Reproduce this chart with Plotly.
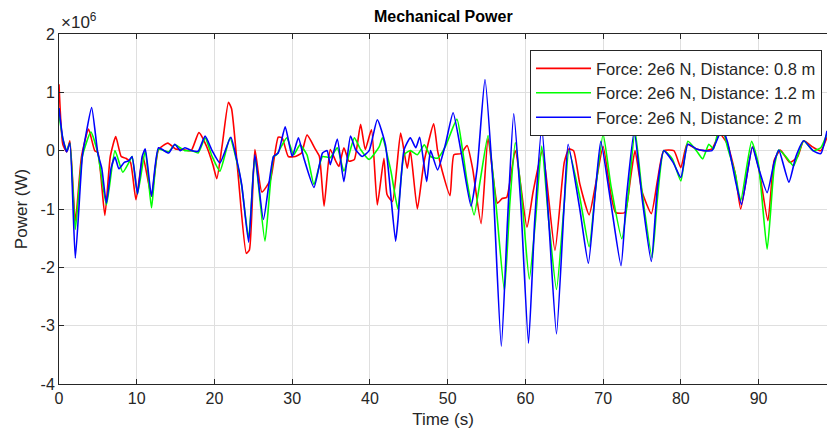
import plotly.graph_objects as go

# Mechanical power traces (values in units of 1e6 W), one time base per run
t_red = [0, 0.5, 1.0, 1.4, 2.1, 2.9, 3.8, 4.6, 5.0, 5.9, 6.6, 7.3, 8.0, 8.6, 9.2, 9.9, 10.8, 11.9,
         12.8, 14.0, 15.0, 16.0, 17.0, 18.0, 19.0, 19.8, 20.3, 21.0, 21.8, 22.2, 23.0, 24.1, 24.5,
         25.2, 26.1, 27.2, 28.2, 28.7, 29.5, 30.4, 31.2, 31.9, 33.0, 33.5, 34.1, 34.9, 35.6, 36.0,
         36.65, 37.3, 38.0, 38.8, 39.4, 40.2, 40.95, 41.8, 42.2, 42.9, 43.95, 44.8, 45.2, 46.1,
         46.95, 48.2, 48.7, 49.3, 50.3, 50.8, 51.7, 52.5, 53.2, 54.3, 55.2, 56.4, 57.0, 57.6, 58.7,
         60.2, 61.0, 62.2, 63.8, 65.0, 65.6, 66.2, 67.0, 68.2, 69.0, 70.0, 71.0, 71.6, 72.8, 73.5,
         74.1, 75.0, 76.2, 77.0, 77.8, 79.1, 80.0, 80.8, 82.0, 83.0, 84.0, 85.0, 86.0, 87.0, 87.7,
         89.2, 90.0, 91.2, 92.0, 92.8, 94.0, 95.0, 95.8, 97.0, 98.0, 98.8]
p_red = [1.14, 0.1, -0.02, 0.17, -1.21, -0.1, 0.37, 0.0, -0.03, -1.11, -0.1, 0.24, -0.1, -0.13, -0.2,
         -0.84, -0.1, -0.78, 0.02, 0.13, 0.03, 0.02, 0.0, 0.31, 0.07, -0.24, -0.48, 0.1, 0.83, 0.72,
         -0.35, -1.76, -1.7, 0.02, -0.71, -0.5, 0.23, 0.22, -0.1, -0.1, -0.04, 0.27, 0.02, -0.1,
         -0.95, 0.02, -0.18, -0.27, 0.05, -0.18, -0.15, 0.45, 0.02, 0.36, -0.93, -0.13, -0.75, -0.87,
         0.3, -0.3, 0.0, -1.0, -0.2, 0.46, 0.0, -0.35, -0.77, -0.07, -0.05, 0.09, -0.3, -1.25, 0.21,
         -0.9, -0.82, -0.8, 0.0, -1.31, -0.7, 0.0, -1.71, -0.2, 0.03, 0.0, -0.57, -1.1, -0.6, 0.07,
         -0.75, -1.06, -1.06, -0.5, 0.0, -0.7, -1.08, -0.5, 0.0, 0.0, -0.29, 0.11, 0.03, 0.0, 0.03,
         0.29, 0.11, -0.4, -1.0, 0.06, -0.29, -1.2, -0.17, 0.01, -0.2, -0.11, 0.17, 0.06, 0.0, 0.23]

t_green = [0, 0.5, 1.0, 1.4, 2.1, 3.0, 4.1, 5.0, 6.1, 7.2, 8.2, 9.0, 9.4, 10.1, 11.1, 11.9, 12.8,
           14.1, 14.9, 16.2, 17.1, 17.9, 18.8, 19.7, 20.7, 22.0, 22.9, 23.5, 24.4, 25.2, 26.5,
           27.6, 28.0, 29.3, 30.2, 31.0, 31.9, 32.8, 33.9, 34.9, 35.8, 36.65, 38.0, 38.8, 39.9,
           41.2, 41.6, 42.7, 43.6, 44.4, 45.2, 46.1, 47.0, 47.8, 48.7, 49.7, 51.2, 51.9, 52.5,
           53.4, 54.2, 55.2, 56.2, 57.3, 58.0, 58.7, 59.6, 60.5, 61.3, 62.1, 63.0, 64.0, 65.0,
           65.6, 67.0, 68.2, 69.0, 70.0, 71.0, 72.4, 73.2, 74.1, 75.0, 76.3, 77.0, 77.8, 78.9,
           80.0, 80.9, 82.0, 82.8, 83.6, 84.2, 85.1, 86.0, 87.0, 87.7, 89.1, 90.0, 91.1, 92.0,
           92.6, 93.5, 94.5, 95.8, 97.0, 98.0, 98.8]
p_green = [0.62, 0.2, 0.0, 0.13, -1.35, -0.1, 0.32, -0.05, -0.93, 0.0, -0.37, -0.2, -0.1, -0.74,
           0.0, -0.98, 0.02, -0.02, 0.1, 0.0, 0.0, -0.04, 0.22, -0.1, -0.35, 0.22, -0.2, -0.6,
           -1.5, -0.1, -1.55, -0.1, -0.07, 0.22, -0.07, 0.1, -0.07, -0.58, -0.1, -0.12, 0.05,
           -0.35, 0.22, 0.02, -0.15, 0.07, 0.22, -0.35, -1.0, -0.07, 0.0, -0.07, 0.1, -0.1, -0.13,
           0.07, 0.54, 0.02, -0.53, -1.1, -0.5, 0.26, -0.9, -2.4, -0.9, 0.14, -0.9, -2.2, -1.2,
           0.08, -1.2, -2.38, -0.9, 0.0, -0.8, -1.65, -0.7, 0.28, -0.6, -1.51, -0.8, 0.34, -0.7,
           -1.83, -0.8, 0.0, -0.14, -0.52, 0.16, 0.0, -0.14, 0.11, 0.03, 0.5, 0.06, -0.4, -0.86,
           0.16, -0.25, -1.69, -0.3, 0.01, -0.1, -0.26, 0.17, 0.0, 0.05, 0.29]

t_blue = [0, 0.5, 1.0, 1.4, 2.1, 3.0, 3.5, 4.2, 5.0, 5.5, 6.1, 6.7, 7.2, 7.7, 8.4, 9.0, 9.4, 10.1,
          10.7, 11.1, 11.9, 12.8, 14.1, 14.9, 15.6, 16.2, 17.1, 17.9, 18.8, 19.7, 20.7, 22.1, 22.9,
          23.5, 24.4, 25.2, 26.3, 27.6, 28.2, 29.1, 30.0, 30.8, 31.5, 32.8, 33.9, 34.5, 34.9, 35.8,
          36.65, 37.5, 38.15, 39.0, 39.9, 40.95, 42.0, 43.3, 43.6, 44.4, 45.2, 45.9, 46.4, 47.3,
          47.8, 48.7, 49.7, 50.7, 51.7, 53.0, 53.8, 54.8, 55.8, 56.9, 57.7, 58.5, 59.4, 60.4, 61.2,
          62.1, 63.0, 64.0, 65.0, 65.5, 67.0, 68.1, 69.0, 69.7, 71.0, 72.3, 73.0, 74.0, 75.0, 76.2,
          77.0, 77.8, 79.0, 80.0, 80.9, 82.0, 83.0, 84.0, 85.3, 86.0, 87.0, 87.8, 89.2, 90.0, 91.1,
          92.0, 92.6, 93.9, 94.8, 95.8, 97.0, 98.0, 98.8]
p_blue = [0.73, 0.2, -0.02, 0.13, -1.84, -0.1, 0.3, 0.74, -0.05, -0.3, -0.9, -0.3, -0.11, -0.31,
          -0.2, -0.17, -0.1, -0.74, -0.1, 0.03, -0.78, 0.05, -0.04, 0.11, 0.0, 0.05, 0.0, -0.01,
          0.25, 0.0, -0.21, 0.23, -0.18, -0.58, -1.57, -0.07, -1.18, -0.1, -0.04, 0.41, -0.1,
          0.22, -0.13, -0.63, -0.04, 0.0, -0.24, 0.2, -0.53, 0.25, 0.02, -0.1, 0.0, 0.53, 0.1,
          -1.55, -1.2, 0.02, 0.22, 0.05, 0.23, -0.53, 0.0, -0.33, 0.1, 0.65, 0.0, -0.95, -0.3,
          1.22, -0.5, -3.35, -1.2, 0.63, -0.9, -3.3, -1.2, 0.4, -1.2, -3.14, -0.9, 0.11, -1.0,
          -1.93, -0.7, 0.16, -0.9, -1.97, -0.8, 0.33, -0.8, -1.9, -0.6, 0.0, -0.2, -0.46, 0.11,
          0.03, 0.0, 0.0, 0.37, 0.15, -0.5, -0.92, 0.06, -0.3, -0.72, -0.2, 0.01, -0.54, -0.1,
          0.17, 0.0, -0.05, 0.34]

series_names = ["Force: 2e6 N, Distance: 0.8 m",
                "Force: 2e6 N, Distance: 1.2 m",
                "Force: 2e6 N, Distance: 2 m"]
series_colors = ["#ff0000", "#00ff00", "#0000ff"]

x_ticks = [0, 10, 20, 30, 40, 50, 60, 70, 80, 90]
y_ticks = [2, 1, 0, -1, -2, -3, -4]

fig = go.Figure()
for t, p, name, color in zip([t_red, t_green, t_blue], [p_red, p_green, p_blue],
                             series_names, series_colors):
    fig.add_trace(go.Scatter(x=t, y=p, mode="lines", name=name,
                             line=dict(color=color, width=1.6, shape="spline", smoothing=0.5)))

axis_color = "#262626"
grid_color = "#dfdfdf"
font_family = "Liberation Sans, Arial, sans-serif"

fig.update_layout(
    width=827, height=437,
    margin=dict(l=59, r=0, t=34, b=53),
    paper_bgcolor="white", plot_bgcolor="white",
    font=dict(family=font_family, color=axis_color, size=15),
    title=dict(text="<b>Mechanical Power</b>", x=0.536, xanchor="center",
               y=0.962, yanchor="middle", font=dict(size=16, color="black")),
    showlegend=True,
    legend=dict(x=0.9935, xanchor="right", y=0.954, yanchor="top",
                bgcolor="white", bordercolor=axis_color, borderwidth=1,
                font=dict(size=16.5, color=axis_color), tracegroupgap=0,
                itemwidth=55),
)

fig.update_xaxes(
    range=[0, 98.8], tickvals=x_ticks, ticktext=[str(v) for v in x_ticks],
    showgrid=True, gridcolor=grid_color, gridwidth=1,
    showline=True, linecolor=axis_color, linewidth=1, mirror="ticks",
    ticks="inside", ticklen=5, tickcolor=axis_color, zeroline=False,
    tickfont=dict(size=16), title=dict(text="Time (s)", font=dict(size=17), standoff=6),
)
fig.update_yaxes(
    range=[-4, 2], tickvals=y_ticks, ticktext=[str(v) for v in y_ticks],
    showgrid=True, gridcolor=grid_color, gridwidth=1,
    showline=True, linecolor=axis_color, linewidth=1, mirror=False,
    ticks="inside", ticklen=5, tickcolor=axis_color, zeroline=False,
    tickfont=dict(size=16), title=dict(text="Power (W)", font=dict(size=17), standoff=8),
)

# Exponent multiplier above the y axis
fig.add_annotation(xref="paper", yref="paper", x=0.0, y=1.0, xanchor="left", yanchor="bottom",
                   yshift=0, showarrow=False, text="×10<sup>6</sup>",
                   font=dict(size=17, color=axis_color))

fig.write_html("out.html")
